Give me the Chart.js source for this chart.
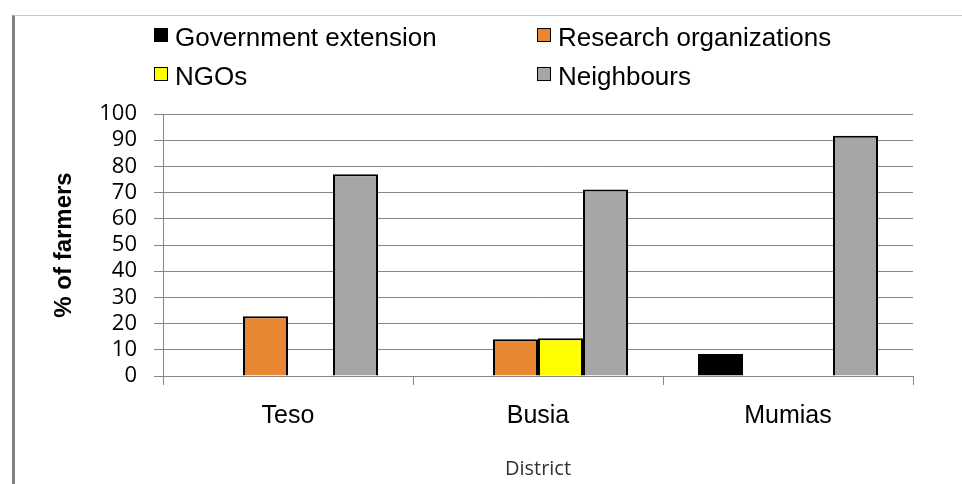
<!DOCTYPE html>
<html>
<head>
<meta charset="utf-8">
<title>Sources of information by district</title>
<script src="https://cdn.jsdelivr.net/npm/chart.js@4.4.1/dist/chart.umd.min.js"></script>
<style>
  html, body {
    margin: 0;
    padding: 0;
    background: #ffffff;
  }
  .wrap {
    position: relative;
    width: 962px;
    height: 484px;
    overflow: hidden;
  }
  .frame {
    position: absolute;
    left: 12px;
    top: 15px;
    right: 0;
    bottom: 0;
    border-top: 1px solid #c8c8c8;
    border-left: 3px solid #808080;
  }
  #chart {
    position: absolute;
    left: 0;
    top: 0;
  }
  .legend-item {
    position: absolute;
    display: flex;
    align-items: center;
    height: 26px;
    font-family: "Liberation Sans", Arial, sans-serif;
    font-size: 26px;
    line-height: 26px;
    color: #000;
    white-space: nowrap;
  }
  .legend-box {
    width: 14px;
    height: 14px;
    box-sizing: border-box;
    border: 1px solid #000;
    margin-right: 7px;
    transform: translateY(-2px);
  }
</style>
</head>
<body>
<div class="wrap">
  <div class="frame"></div>
  <canvas id="chart" width="962" height="484"></canvas>
  <div id="legend"></div>
</div>
<script>
const districts = ["Teso", "Busia", "Mumias"];

const sourceNames = [
  "Government extension",
  "Research organizations",
  "NGOs",
  "Neighbours",
];

// % of farmers getting information from each source (null = no bar)
const governmentExtension = [null, null, 8.4];
const researchOrganizations = [22.8, 14.0, null];
const ngos = [null, 14.4, null];
const neighbours = [77.0, 71.2, 91.7];

const sourceColors = ["#000000", "#e88631", "#ffff00", "#a6a6a6"];

const yMin = 0;
const yMax = 100;
const yStep = 10;

const gridColor = "#868686";

const seriesValues = [governmentExtension, researchOrganizations, ngos, neighbours];

const datasets = sourceNames.map((name, i) => ({
  label: name,
  data: seriesValues[i],
  backgroundColor: sourceColors[i],
  borderColor: "#000000",
  borderWidth: 2,
  borderSkipped: "bottom",
  categoryPercentage: 0.72,
  barPercentage: 1.0,
}));

const chart = new Chart(document.getElementById("chart"), {
  type: "bar",
  data: {
    labels: districts,
    datasets,
  },
  options: {
    responsive: false,
    animation: false,
    layout: {
      padding: { top: 114, right: 49, bottom: 0, left: 0 },
    },
    plugins: {
      legend: { display: false },
      tooltip: { enabled: false },
    },
    scales: {
      x: {
        afterFit: (scale) => {
          scale.height = 108;
        },
        grid: {
          drawOnChartArea: false,
          drawTicks: true,
          tickLength: 9,
          color: gridColor,
          offset: true,
        },
        border: { color: gridColor, width: 1 },
        ticks: {
          color: "#000000",
          padding: 16,
          font: { family: "'Liberation Sans', Arial, sans-serif", size: 25 },
        },
        title: {
          display: true,
          text: "District",
          color: "#333333",
          padding: { top: 0, bottom: 3 },
          font: { family: "'Open Sans', sans-serif", size: 20 },
        },
      },
      y: {
        min: yMin,
        max: yMax,
        afterFit: (scale) => {
          scale.width = 163;
        },
        grid: {
          color: gridColor,
          lineWidth: 1,
          drawTicks: true,
          tickLength: 9,
        },
        border: { color: gridColor, width: 1 },
        ticks: {
          stepSize: yStep,
          autoSkip: false,
          color: "#000000",
          padding: 17,
          font: { family: "'Open Sans', sans-serif", size: 22 },
        },
        title: {
          display: true,
          text: "% of farmers",
          color: "#000000",
          padding: { top: 50, bottom: 0 },
          font: { family: "'Liberation Sans', Arial, sans-serif", size: 24, weight: "bold" },
        },
      },
    },
  },
});

// two-column legend above the plot
const legendEl = document.getElementById("legend");
const legendCols = [154, 537];
const legendRows = [24, 63];

chart.data.datasets.forEach((ds, i) => {
  const item = document.createElement("div");
  item.className = "legend-item";
  item.style.left = `${legendCols[i % 2]}px`;
  item.style.top = `${legendRows[Math.floor(i / 2)]}px`;

  const box = document.createElement("span");
  box.className = "legend-box";
  box.style.background = ds.backgroundColor;

  const text = document.createElement("span");
  text.textContent = ds.label;

  item.appendChild(box);
  item.appendChild(text);
  legendEl.appendChild(item);
});
</script>
</body>
</html>
